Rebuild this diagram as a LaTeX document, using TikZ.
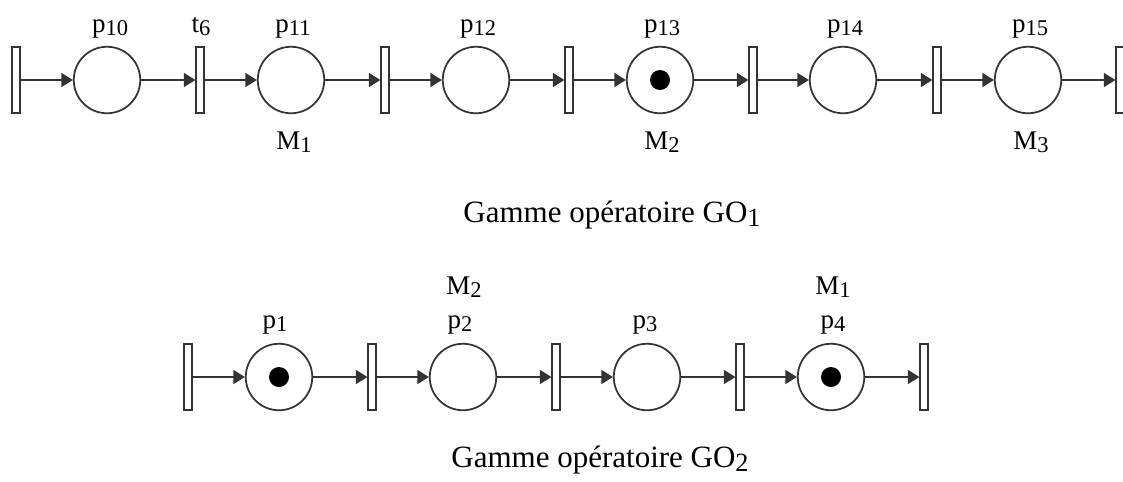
\documentclass[tikz,border=0pt]{standalone}
\usepackage{fontspec}
\setmainfont{Liberation Serif}
\usetikzlibrary{arrows.meta}
\newcommand{\ix}[1]{\raisebox{-0.25ex}{\fontsize{9pt}{10pt}\selectfont #1}}
\newcommand{\gx}[1]{\raisebox{-0.35ex}{\fontsize{10.5pt}{12pt}\selectfont #1}}
\begin{document}
\begin{tikzpicture}[x=0.4pt,y=-0.4pt,
  place/.style={circle,draw=black!80,line width=0.7pt,minimum size=26.6pt,inner sep=0pt},
  trans/.style={rectangle,draw=black!80,line width=0.7pt,minimum width=3pt,minimum height=26.4pt,inner sep=0pt},
  token/.style={circle,fill=black,minimum size=8pt,inner sep=0pt},
  arc/.style={-{Triangle[length=4.6pt,width=5.6pt]},draw=black!80,line width=0.7pt},
  lbl/.style={anchor=base,inner sep=0pt,font=\fontsize{10.8pt}{12pt}\selectfont},
  gammetext/.style={anchor=base,inner sep=0pt,font=\fontsize{12.4pt}{14pt}\selectfont}]
\useasboundingbox (0,0) rectangle (1123,481);
% gamme GO1
\node[trans] (t5) at (16,80) {};
\node[place] (p10) at (107,80) {};
\node[trans] (t6) at (200,80) {};
\node[place] (p11) at (291,80) {};
\node[trans] (t7) at (385,80) {};
\node[place] (p12) at (476,80) {};
\node[trans] (t8) at (569,80) {};
\node[place] (p13) at (660,80) {};
\node[token] (k13) at (p13) {};
\node[trans] (t9) at (753,80) {};
\node[place] (p14) at (843,80) {};
\node[trans] (t10) at (937,80) {};
\node[place] (p15) at (1028,80) {};
\node[trans] (t11) at (1120,80) {};
\draw[arc] (t5) -- (p10);
\draw[arc] (p10) -- (t6);
\draw[arc] (t6) -- (p11);
\draw[arc] (p11) -- (t7);
\draw[arc] (t7) -- (p12);
\draw[arc] (p12) -- (t8);
\draw[arc] (t8) -- (p13);
\draw[arc] (p13) -- (t9);
\draw[arc] (t9) -- (p14);
\draw[arc] (p14) -- (t10);
\draw[arc] (t10) -- (p15);
\draw[arc] (p15) -- (t11);
\node[lbl] (lp10) at (110,32) {p\ix{10}};
\node[lbl] (lt6) at (201,32) {t\ix{6}};
\node[lbl] (lp11) at (293,32) {p\ix{11}};
\node[lbl] (lp12) at (478,32) {p\ix{12}};
\node[lbl] (lp13) at (662,32) {p\ix{13}};
\node[lbl] (lp14) at (845,32) {p\ix{14}};
\node[lbl] (lp15) at (1030,32) {p\ix{15}};
\node[lbl] (lm1) at (294,149) {M\ix{1}};
\node[lbl] (lm2) at (662,149) {M\ix{2}};
\node[lbl] (lm3) at (1031,149) {M\ix{3}};
\node[gammetext] (go1) at (612,222) {Gamme opératoire GO\gx{1}};
% gamme GO2
\node[trans] (u0) at (188,377) {};
\node[place] (p1) at (279,377) {};
\node[token] (k1) at (p1) {};
\node[trans] (u1) at (372,377) {};
\node[place] (p2) at (463,377) {};
\node[trans] (u2) at (556,377) {};
\node[place] (p3) at (647,377) {};
\node[trans] (u3) at (740,377) {};
\node[place] (p4) at (831,377) {};
\node[token] (k4) at (p4) {};
\node[trans] (u4) at (924,377) {};
\draw[arc] (u0) -- (p1);
\draw[arc] (p1) -- (u1);
\draw[arc] (u1) -- (p2);
\draw[arc] (p2) -- (u2);
\draw[arc] (u2) -- (p3);
\draw[arc] (p3) -- (u3);
\draw[arc] (u3) -- (p4);
\draw[arc] (p4) -- (u4);
\node[lbl] (lp1) at (275,328) {p\ix{1}};
\node[lbl] (lp2) at (460,328) {p\ix{2}};
\node[lbl] (lp3) at (645,328) {p\ix{3}};
\node[lbl] (lp4) at (833,328) {p\ix{4}};
\node[lbl] (lm2b) at (464,294) {M\ix{2}};
\node[lbl] (lm1b) at (833,294) {M\ix{1}};
\node[gammetext] (go2) at (600,467) {Gamme opératoire GO\gx{2}};
\end{tikzpicture}
\end{document}
